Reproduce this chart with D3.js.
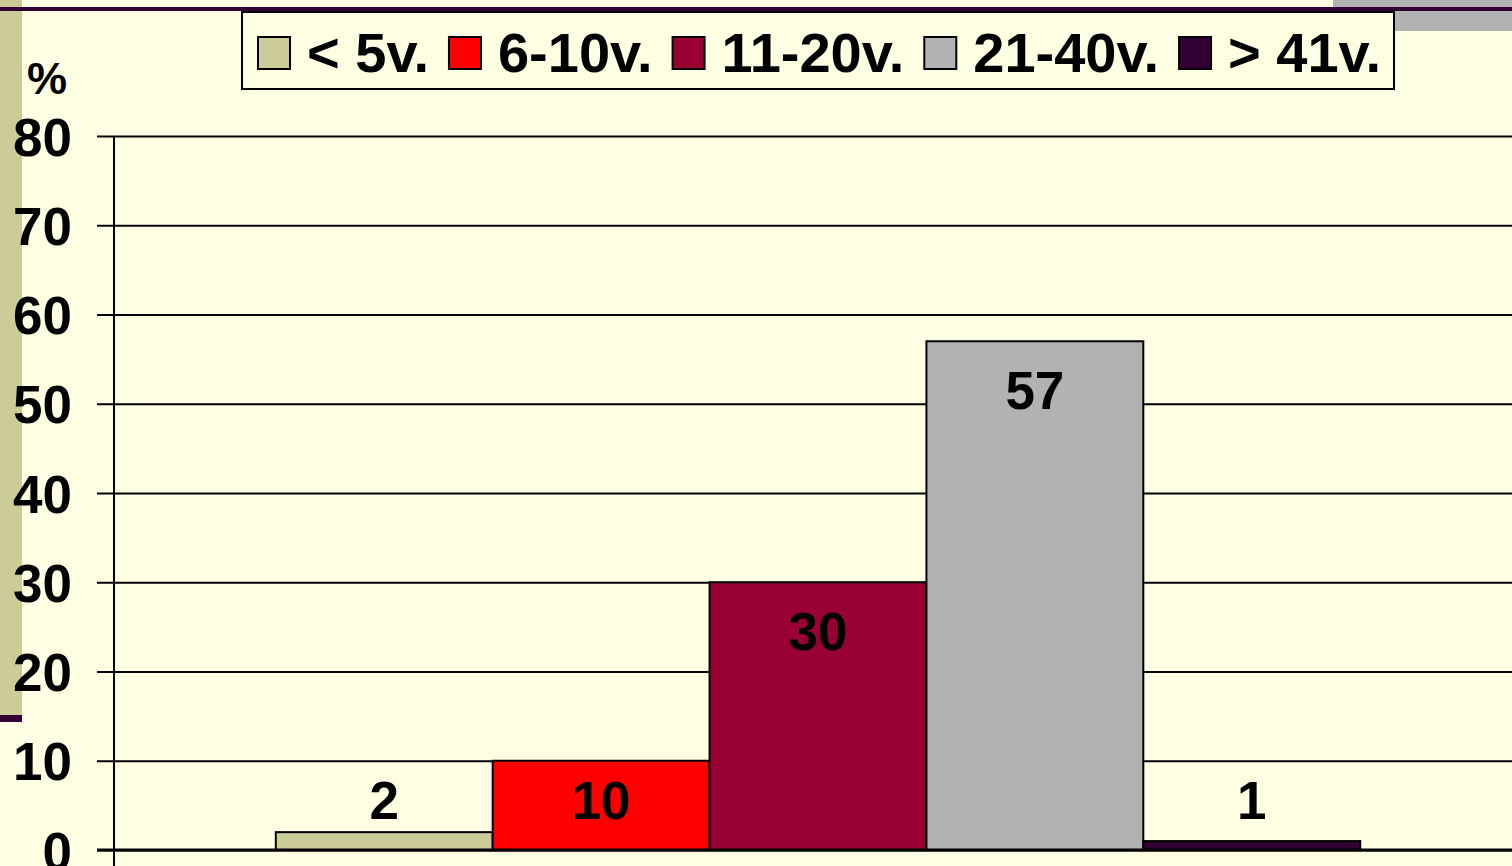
<!DOCTYPE html>
<html>
<head>
<meta charset="utf-8">
<style>
  body { margin: 0; background: #FFFFE3; }
  svg { display: block; font-family: "Liberation Sans", Arial, sans-serif; font-weight: bold; }
</style>
</head>
<body>
<div id="graph_div"></div>
<script src="https://cdn.jsdelivr.net/npm/d3@7"></script>
<script>

// data
let series_names = ["< 5v.", "6-10v.", "11-20v.", "21-40v.", "> 41v."];
let series_values = [2, 10, 30, 57, 1];
let series_colors = ["#CCCC99", "#FF0000", "#990033", "#B2B2B2", "#330033"];
let y_ticks = [0, 10, 20, 30, 40, 50, 60, 70, 80];

let container_width = 1512,
    container_height = 866;

let svg = d3.select("#graph_div")
  .append("svg")
    .attr("width", container_width)
    .attr("height", container_height);

// background
svg.append("rect")
    .attr("width", container_width)
    .attr("height", container_height)
    .attr("fill", "#FFFFE3");

// slide decorations
svg.append("rect")
    .attr("x", 0).attr("y", 0)
    .attr("width", 22).attr("height", 722)
    .attr("fill", "#CCCC99");
svg.append("rect")
    .attr("x", 0).attr("y", 715)
    .attr("width", 22).attr("height", 7)
    .attr("fill", "#330033");
svg.append("rect")
    .attr("x", 1333).attr("y", 0)
    .attr("width", 179).attr("height", 31)
    .attr("fill", "#B2B2B2");
svg.append("rect")
    .attr("x", 0).attr("y", 7)
    .attr("width", container_width).attr("height", 4)
    .attr("fill", "#330033");

// scales
let plot_left = 114, plot_right = 1522, plot_top = 136, plot_bottom = 850;

let y = d3.scaleLinear()
    .domain([0, 80])
    .range([plot_bottom, plot_top]);

let x = d3.scaleBand()
    .domain(series_names)
    .range([plot_left, plot_right])
    .paddingInner(0)
    .paddingOuter(0.746);

// y axis with gridlines
let y_axis = svg.append("g")
    .attr("transform", "translate(" + plot_left + ",0)")
    .call(d3.axisLeft(y).tickValues(y_ticks).tickSize(17).tickPadding(25));
y_axis.select(".domain").remove();
y_axis.selectAll(".tick line").attr("stroke", "black").attr("stroke-width", 2);
y_axis.selectAll(".tick text")
    .attr("fill", "black")
    .attr("font-size", 53)
    .attr("font-family", "Liberation Sans, Arial, sans-serif")
    .attr("font-weight", "bold")
    .attr("dy", "0.36em");

let grid = svg.append("g")
    .attr("transform", "translate(" + plot_left + ",0)")
    .call(d3.axisRight(y).tickValues(y_ticks).tickSize(container_width - plot_left).tickFormat(""));
grid.select(".domain").remove();
grid.selectAll(".tick line").attr("stroke", "black").attr("stroke-width", 2);

// bars
svg.selectAll(".bar")
  .data(series_values)
  .enter()
  .append("rect")
    .attr("class", "bar")
    .attr("x", (d, i) => x(series_names[i]))
    .attr("y", d => y(d))
    .attr("width", x.bandwidth())
    .attr("height", d => y(0) - y(d))
    .attr("fill", (d, i) => series_colors[i])
    .attr("stroke", "black")
    .attr("stroke-width", 2);

// y axis line and x axis line
svg.append("line")
    .attr("x1", plot_left).attr("x2", plot_left)
    .attr("y1", plot_top).attr("y2", container_height)
    .attr("stroke", "black").attr("stroke-width", 2);
svg.append("line")
    .attr("x1", plot_left - 17).attr("x2", container_width)
    .attr("y1", y(0)).attr("y2", y(0))
    .attr("stroke", "black").attr("stroke-width", 3);

// value labels
svg.selectAll(".val")
  .data(series_values)
  .enter()
  .append("text")
    .attr("class", "val")
    .attr("x", (d, i) => x(series_names[i]) + x.bandwidth() / 2)
    .attr("y", d => Math.min(y(d) + 49, 800))
    .attr("dy", "0.36em")
    .attr("text-anchor", "middle")
    .attr("font-size", 53)
    .attr("fill", "black")
    .text(d => d);

// % unit
svg.append("text")
    .attr("x", 47).attr("y", 94)
    .attr("text-anchor", "middle")
    .attr("font-size", 45)
    .attr("fill", "black")
    .text("%");

// legend
let legend = svg.append("g");
legend.append("rect")
    .attr("x", 242).attr("y", 12)
    .attr("width", 1152).attr("height", 77)
    .attr("fill", "#FFFFE3")
    .attr("stroke", "black")
    .attr("stroke-width", 2);

let lx = 258;
series_names.forEach((name, i) => {
  legend.append("rect")
      .attr("x", lx).attr("y", 37)
      .attr("width", 32).attr("height", 32)
      .attr("fill", series_colors[i])
      .attr("stroke", "black")
      .attr("stroke-width", 2);
  let t = legend.append("text")
      .attr("x", lx + 49).attr("y", 72)
      .attr("font-size", 56)
      .attr("fill", "black")
      .text(name);
  lx = lx + 49 + t.node().getComputedTextLength() + 20;
});

</script>
</body>
</html>
